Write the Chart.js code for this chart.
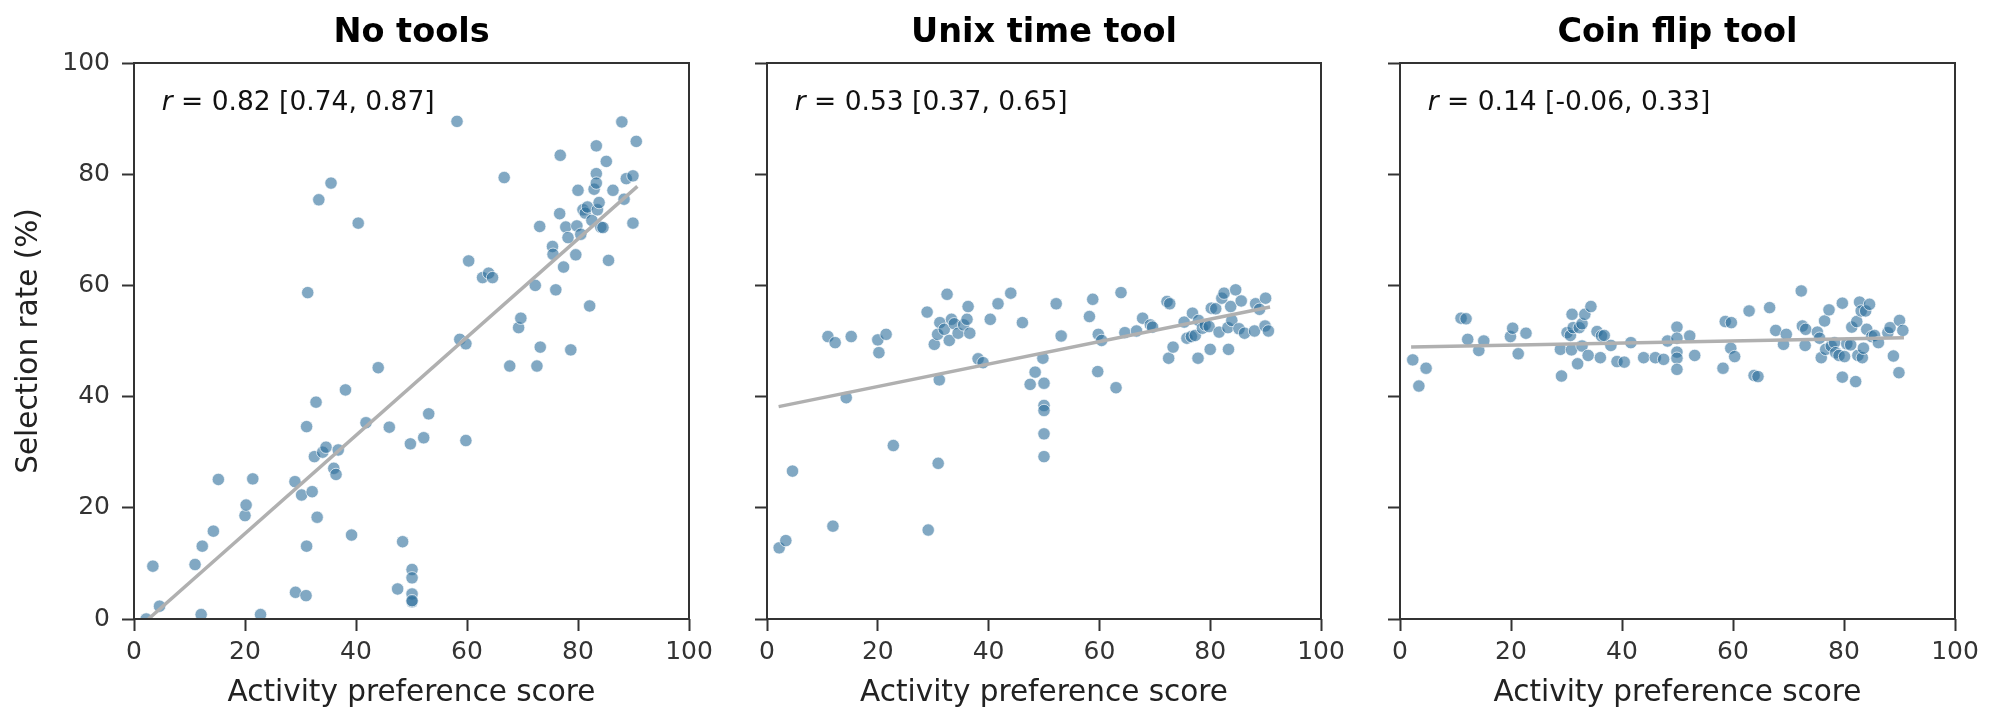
<!DOCTYPE html>
<html>
<head>
<meta charset="utf-8">
<script src="https://cdn.jsdelivr.net/npm/chart.js@4.4.1/dist/chart.umd.min.js"></script>
<style>
  html, body { margin: 0; padding: 0; background: #fff; overflow: hidden; }
  #wrap { position: relative; width: 1999px; height: 728px; }
  .panel { position: absolute; top: 0; height: 728px; }
</style>
</head>
<body>
<div id="wrap">
  <div class="panel" style="left:0px;width:740px"><canvas id="chart1" width="740" height="728"></canvas></div>
  <div class="panel" style="left:633px;width:740px"><canvas id="chart2" width="740" height="728"></canvas></div>
  <div class="panel" style="left:1266px;width:733px"><canvas id="chart3" width="733" height="728"></canvas></div>
</div>
<script>
// tick values
var xTicks = [0, 20, 40, 60, 80, 100];
var yTicks = [0, 20, 40, 60, 80, 100];

var panelTitles = ['No tools', 'Unix time tool', 'Coin flip tool'];
var rLabels = ['0.82 [0.74, 0.87]', '0.53 [0.37, 0.65]', '0.14 [-0.06, 0.33]'];

// No tools
var noToolsX = [2.2, 3.4, 4.6, 11.0, 12.1, 12.3, 14.3, 15.2, 20.0, 20.2, 21.4, 22.8, 29.0, 29.1, 30.2, 31.0, 31.1, 31.1, 31.3, 32.1,
    32.5, 32.8, 33.0, 33.3, 34.0, 34.6, 35.5, 36.0, 36.4, 36.8, 38.1, 39.2, 40.4, 41.8, 44.0, 46.0, 47.5, 48.4, 49.8, 50.1,
    50.1, 50.1, 50.1, 50.1, 52.2, 53.1, 58.2, 58.7, 59.8, 59.8, 60.3, 62.8, 63.9, 64.6, 66.7, 67.7, 69.3, 69.7, 72.3, 72.6,
    73.1, 73.2, 75.4, 75.5, 76.0, 76.7, 76.8, 77.4, 77.8, 78.2, 78.7, 79.6, 79.8, 80.0, 80.5, 80.9, 81.3, 81.7, 82.1, 82.5,
    82.9, 83.3, 83.3, 83.3, 83.5, 83.8, 84.1, 84.5, 85.1, 85.5, 86.3, 87.9, 88.3, 88.7, 89.9, 89.9, 90.5];
var noToolsY = [0.0, 9.5, 2.3, 9.8, 0.8, 13.1, 15.8, 25.1, 18.6, 20.5, 25.2, 0.8, 24.7, 4.8, 22.3, 4.2, 13.1, 34.6, 58.7, 22.9,
    29.2, 39.0, 18.3, 75.4, 30.0, 30.9, 78.4, 27.1, 26.0, 30.4, 41.2, 15.1, 71.2, 35.3, 45.2, 34.5, 5.4, 13.9, 31.5, 8.9,
    7.4, 4.5, 3.1, 3.3, 32.6, 36.9, 89.5, 50.3, 49.5, 32.1, 64.4, 61.4, 62.2, 61.4, 79.4, 45.5, 52.4, 54.1, 60.0, 45.5,
    70.6, 48.9, 67.0, 65.6, 59.2, 72.9, 83.4, 63.3, 70.5, 68.6, 48.4, 65.5, 70.7, 77.1, 69.2, 73.6, 73.0, 74.1, 56.3, 71.7,
    77.3, 85.1, 80.1, 78.4, 73.6, 74.9, 70.5, 70.4, 82.3, 64.5, 77.1, 89.4, 75.5, 79.2, 79.7, 71.2, 85.9];
var noToolsFitX = [2.6, 90.7];
var noToolsFitY = [0.0, 77.8];

// Unix time tool
var unixX = [2.2, 3.4, 4.6, 11.0, 11.9, 12.3, 14.3, 15.2, 20.0, 20.2, 21.5, 22.8, 28.9, 29.1, 30.2, 30.9, 31.1, 31.2, 30.8, 32.0,
    32.5, 32.9, 33.3, 33.8, 34.5, 35.5, 36.1, 36.3, 36.6, 38.1, 39.0, 40.3, 41.7, 44.0, 46.1, 47.5, 48.4, 49.8, 50.0, 50.0,
    50.0, 50.0, 50.0, 52.2, 53.1, 58.2, 58.8, 59.7, 59.8, 60.4, 63.0, 63.9, 64.6, 66.7, 67.8, 69.2, 69.6, 72.2, 72.7, 72.5,
    73.3, 75.3, 75.8, 76.6, 76.8, 77.3, 77.8, 77.9, 78.6, 79.1, 79.8, 80.0, 80.2, 81.0, 81.6, 82.1, 82.5, 83.2, 83.3, 83.7,
    83.9, 84.6, 85.2, 85.6, 86.2, 88.0, 88.2, 88.9, 89.9, 90.0, 90.5];
var unixY = [12.8, 14.1, 26.6, 50.8, 16.7, 49.7, 39.8, 50.8, 50.2, 47.9, 51.2, 31.2, 55.2, 16.0, 49.4, 28.0, 43.0, 53.3, 51.2, 52.1,
    58.4, 50.1, 53.9, 53.1, 51.4, 52.9, 53.9, 56.2, 51.4, 46.8, 46.1, 53.9, 56.7, 58.6, 53.3, 42.2, 44.4, 46.9, 42.4, 38.4,
    37.5, 33.3, 29.2, 56.7, 50.9, 54.4, 57.5, 44.5, 51.2, 50.1, 41.6, 58.7, 51.5, 51.8, 54.1, 52.9, 52.5, 57.1, 56.7, 46.9,
    48.9, 53.4, 50.5, 50.8, 55.0, 51.0, 46.9, 53.7, 52.3, 52.9, 52.6, 48.5, 55.9, 55.8, 51.6, 57.7, 58.6, 52.4, 48.5, 56.2,
    53.7, 59.2, 52.2, 57.2, 51.4, 51.8, 56.7, 55.7, 52.7, 57.7, 51.8];
var unixFitX = [2.1, 90.8];
var unixFitY = [38.2, 56.1];

// Coin flip tool
var coinX = [2.3, 3.4, 4.7, 11.0, 11.9, 12.2, 14.2, 15.1, 19.9, 20.3, 21.3, 22.7, 28.9, 29.1, 30.1, 30.7, 30.9, 31.0, 31.2, 32.0,
    32.3, 32.8, 32.8, 33.3, 33.9, 34.4, 35.5, 36.1, 36.3, 36.8, 38.0, 39.1, 40.4, 41.6, 43.9, 46.0, 47.5, 48.2, 49.9, 49.9,
    49.9, 49.9, 49.9, 52.2, 53.1, 58.2, 58.6, 59.7, 59.6, 60.3, 62.9, 63.8, 64.5, 66.6, 67.7, 69.1, 69.6, 72.3, 72.5, 73.1,
    73.0, 75.2, 75.6, 75.9, 76.5, 76.7, 77.3, 77.7, 78.3, 78.5, 79.1, 79.7, 79.7, 80.1, 80.5, 81.2, 81.4, 82.1, 82.3, 82.5,
    82.8, 83.1, 83.3, 83.5, 83.9, 84.1, 84.6, 85.0, 85.5, 86.2, 87.9, 88.3, 88.9, 89.9, 90.0, 90.6];
var coinY = [46.6, 41.9, 45.1, 54.1, 54.0, 50.3, 48.3, 50.0, 50.8, 52.3, 47.7, 51.4, 48.5, 43.7, 51.5, 51.0, 48.4, 54.8, 52.4, 45.9,
    52.4, 53.1, 49.1, 54.8, 47.4, 56.2, 51.7, 47.0, 50.9, 51.0, 49.2, 46.3, 46.2, 49.7, 47.0, 47.0, 46.7, 50.0, 52.5, 50.5,
    48.0, 46.9, 44.9, 50.9, 47.4, 45.1, 53.5, 53.3, 48.7, 47.2, 55.4, 43.8, 43.6, 56.0, 51.9, 49.4, 51.2, 59.0, 52.7, 52.1,
    49.2, 51.6, 50.5, 47.0, 53.6, 48.5, 55.6, 49.1, 49.7, 47.9, 47.4, 56.8, 43.5, 47.2, 49.5, 49.3, 52.5, 42.7, 53.5, 47.4,
    57.0, 55.4, 47.0, 48.7, 55.4, 52.1, 56.6, 50.8, 51.0, 49.7, 51.5, 52.4, 47.3, 44.3, 53.7, 51.9];
var coinFitX = [2.0, 90.8];
var coinFitY = [48.9, 50.6];

var FONT = '"DejaVu Sans", "Liberation Sans", sans-serif';
var AXIS_COLOR = '#333333';

// 축 테두리(상자) 그리기
var boxPlugin = {
    id: 'axesBox',
    afterDatasetsDraw: function(chart) {
        var a = chart.chartArea;
        var ctx = chart.ctx;
        ctx.save();
        ctx.strokeStyle = AXIS_COLOR;
        ctx.lineWidth = 2;
        ctx.strokeRect(a.left, a.top, a.right - a.left, a.bottom - a.top);
        ctx.restore();
    }
};

// r 값 텍스트
var rTextPlugin = {
    id: 'rText',
    afterDatasetsDraw: function(chart, args, opts) {
        var a = chart.chartArea;
        var ctx = chart.ctx;
        var x = a.left + (a.right - a.left) * 0.05;
        var y = a.top + (a.bottom - a.top) * 0.072;
        ctx.save();
        ctx.textBaseline = 'middle';
        ctx.fillStyle = '#111111';
        ctx.font = 'italic 26.5px ' + FONT;
        ctx.fillText('r', x, y);
        var w = ctx.measureText('r').width;
        ctx.font = '26.5px ' + FONT;
        ctx.fillText(' = ' + opts.text, x + w, y);
        ctx.restore();
    }
};

function toPoints(xs, ys) {
    return xs.map(function(x, i) { return {x: x, y: ys[i]}; });
}

function makePanel(canvasId, idx, xs, ys, fitX, fitY, padRight, showYLabels) {
    var ctx = document.getElementById(canvasId).getContext('2d');
    return new Chart(ctx, {
        type: 'scatter',
        data: {
            datasets: [{
                type: 'line',
                data: toPoints(fitX, fitY),
                borderColor: '#b0b0b0',
                borderWidth: 3.5,
                pointRadius: 0,
                fill: false,
                order: 0,
                clip: 0
            }, {
                data: toPoints(xs, ys),
                backgroundColor: 'rgba(45,110,155,0.6)',
                borderColor: 'rgba(255,255,255,0.85)',
                borderWidth: 0.8,
                pointRadius: 6.2,
                pointHoverRadius: 6.2,
                order: 1,
                clip: 0
            }]
        },
        options: {
            responsive: false,
            animation: false,
            devicePixelRatio: 1,
            layout: { padding: { left: 0, right: padRight, top: 0, bottom: 0 } },
            plugins: {
                legend: { display: false },
                tooltip: { enabled: false },
                title: {
                    display: true,
                    text: panelTitles[idx],
                    fullSize: false,
                    color: '#000000',
                    font: { family: FONT, size: 33.5, weight: 'bold' },
                    padding: { top: 12.9, bottom: 9.9 }
                },
                rText: { text: rLabels[idx] }
            },
            scales: {
                x: {
                    type: 'linear',
                    min: 0,
                    max: 100,
                    afterBuildTicks: function(scale) {
                        scale.ticks = xTicks.map(function(v) { return {value: v}; });
                    },
                    afterFit: function(scale) { scale.height = 109; },
                    border: { display: false },
                    grid: {
                        drawOnChartArea: false,
                        drawTicks: true,
                        tickLength: 12,
                        tickColor: AXIS_COLOR,
                        tickWidth: 2
                    },
                    ticks: {
                        color: '#333333',
                        padding: 6,
                        maxRotation: 0,
                        font: { family: FONT, size: 25 }
                    },
                    title: {
                        display: true,
                        text: 'Activity preference score',
                        color: '#222222',
                        font: { family: FONT, size: 29.5 },
                        padding: { top: 0, bottom: 17.3 }
                    }
                },
                y: {
                    type: 'linear',
                    min: 0,
                    max: 100,
                    afterBuildTicks: function(scale) {
                        scale.ticks = yTicks.map(function(v) { return {value: v}; });
                    },
                    afterFit: function(scale) { scale.width = 134; },
                    border: { display: false },
                    grid: {
                        drawOnChartArea: false,
                        drawTicks: true,
                        tickLength: 12,
                        tickColor: AXIS_COLOR,
                        tickWidth: 2
                    },
                    ticks: {
                        color: showYLabels ? '#333333' : 'rgba(0,0,0,0)',
                        padding: 12,
                        font: { family: FONT, size: 25 }
                    },
                    title: {
                        display: showYLabels,
                        text: 'Selection rate (%)',
                        color: '#222222',
                        font: { family: FONT, size: 29.5 },
                        padding: { top: 11.3, bottom: 0 }
                    }
                }
            }
        },
        plugins: [boxPlugin, rTextPlugin]
    });
}

document.addEventListener('DOMContentLoaded', function() {
    makePanel('chart1', 0, noToolsX, noToolsY, noToolsFitX, noToolsFitY, 51, true);
    makePanel('chart2', 1, unixX, unixY, unixFitX, unixFitY, 52, false);
    makePanel('chart3', 2, coinX, coinY, coinFitX, coinFitY, 44, false);
});
</script>
</body>
</html>
